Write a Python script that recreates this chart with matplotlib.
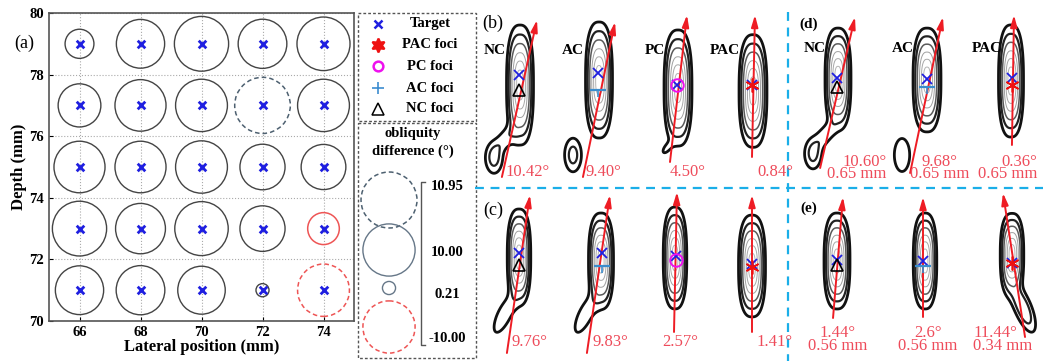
import numpy as np
import matplotlib
matplotlib.use("Agg")
import matplotlib.pyplot as plt
from matplotlib.patches import Circle, Rectangle

plt.rcParams['font.family'] = ['Liberation Serif', 'DejaVu Serif']

# ---------------- data: panel (a) ----------------
lateral = [66, 68, 70, 72, 74]          # mm
depth = [79, 77, 75, 73, 71]            # mm
# obliquity difference (deg) per depth row (top to bottom) and lateral column
obl_79 = [4.2, 9.1, 10.6, 9.2, 10.3]
obl_77 = [7.7, 9.8, 10.0, 10.95, 10.0]
obl_75 = [9.8, 9.8, 10.0, 8.3, 8.2]
obl_73 = [10.6, 9.5, 10.4, 8.3, -4.9]
obl_71 = [9.1, 9.2, 8.9, 0.21, -10.0]
obl_rows = [obl_79, obl_77, obl_75, obl_73, obl_71]
legend_values = [10.95, 10.00, 0.21, -10.00]
legend_labels = ['10.95', '10.00', '0.21', '-10.00']
x_ticks = [66, 68, 70, 72, 74]
y_ticks = [70, 72, 74, 76, 78, 80]

# ---------------- data: panels (b)-(e) ----------------
panel_row = ['b', 'b', 'b', 'b', 'c', 'c', 'c', 'c', 'd', 'd', 'd', 'e', 'e', 'e']
methods = ['NC', 'AC', 'PC', 'PAC', 'NC', 'AC', 'PC', 'PAC', 'NC', 'AC', 'PAC', 'NC', 'AC', 'PAC']
angle_labels = ['10.42°', '9.40°', '4.50°', '0.84°', '9.76°', '9.83°', '2.57°', '1.41°',
                '10.60°', '9.68°', '0.36°', '1.44°', '2.6°', '11.44°']
dist_labels = [None] * 8 + ['0.65 mm', '0.65 mm', '0.65 mm', '0.56 mm', '0.56 mm', '0.34 mm']
arrow_tilt = [12.6, 11.7, 6.6, 1.2, 8.3, 8.3, 1.2, 0.0, 13.0, 11.9, 0.9, 4.7, 0.0, -8.7]

RED_TXT = '#ee4b5a'
RED_ARR = '#ee1c24'
BLUE = '#1f1fe0'
CYAN = '#1aaee8'

def radius(v):
    return 0.2 + 0.065 * abs(v)

def circ_style(v):
    vmax = max(legend_values)
    vmin = min(legend_values)
    if v < 0:
        return dict(ec='#ee5555', ls=(0, (3, 2)) if v <= vmin else '-', lw=1.1)
    if v >= vmax:
        return dict(ec='#4d6070', ls=(0, (3, 2)), lw=1.1)
    return dict(ec='#444444', ls='-', lw=1.0)

W, H = 1043, 361
fig = plt.figure(figsize=(W / 100, H / 100), dpi=100)

# ---------------- panel (a) ----------------
axa = fig.add_axes([49 / W, 1 - 321 / H, 305 / W, 308 / H])
axa.set_xlim(65, 75)
axa.set_ylim(70, 80)
for r, d in enumerate(depth):
    for c, lx in enumerate(lateral):
        v = obl_rows[r][c]
        st = circ_style(v)
        axa.add_patch(Circle((lx, d), radius(v), fill=False, **st))
xs, ys = np.meshgrid(lateral, depth)
axa.scatter(xs.ravel(), ys.ravel(), marker='x', s=30, color=BLUE, linewidths=2.0, zorder=5)
axa.set_xticks(x_ticks)
axa.set_yticks(y_ticks)
axa.grid(True, ls=':', color='#aaaaaa', lw=0.8)
axa.set_axisbelow(True)
axa.tick_params(direction='in', length=3, labelsize=10.5, width=0.8)
for lab in axa.get_xticklabels() + axa.get_yticklabels():
    lab.set_fontweight('bold')
axa.set_xlabel('Lateral position (mm)', fontsize=12, fontweight='bold', labelpad=0)
axa.set_ylabel('Depth (mm)', fontsize=12, fontweight='bold', labelpad=2)
for s in axa.spines.values():
    s.set_color('#555555')
    s.set_linewidth(1.2)

# ---------------- overlay (pixel coordinates) ----------------
ov = fig.add_axes([0, 0, 1, 1])
ov.set_xlim(0, W)
ov.set_ylim(H, 0)
ov.axis('off')
ov.patch.set_alpha(0)

ov.text(24, 43, '(a)', fontsize=13, ha='center', va='center')

# legend boxes
box_kw = dict(fill=False, ec='#555555', lw=1.0, ls=(0, (2, 1.5)))
ov.add_patch(Rectangle((358, 13), 118, 108, **box_kw))
ov.add_patch(Rectangle((358, 123), 118, 235, **box_kw))

leg_names = ['Target', 'PAC foci', 'PC foci', 'AC foci', 'NC foci']
leg_y = [24, 45, 66, 88, 109]
ov.plot(378, leg_y[0], marker='x', ms=6, mew=1.8, color=BLUE, ls='none')
ov.plot(378, leg_y[1], marker=(6, 1, 0), ms=10, mew=1.5, color='#ee1111', ls='none')
ov.plot(378, leg_y[2], marker='o', ms=7, mew=1.8, mfc='none', mec='#ee11ee', ls='none')
ov.plot(378, leg_y[3], marker='+', ms=9, mew=1.2, color='#3c8cd0', ls='none')
ov.plot(378, leg_y[4], marker='^', ms=8, mew=1.1, mfc='none', mec='k', ls='none')
for nm, yy in zip(leg_names, leg_y):
    ov.text(430, yy, nm, fontsize=10.5, fontweight='bold', ha='center', va='center')

ov.text(413, 134, 'obliquity', fontsize=10.5, fontweight='bold', ha='center', va='center')
ov.text(413, 151, 'difference (°)', fontsize=10.5, fontweight='bold', ha='center', va='center')

px_per_mm = 30.7
leg_cy = [200, 250, 288, 327]
for v, cy in zip(legend_values, leg_cy):
    st = circ_style(v)
    if v >= 0 and v < max(legend_values):
        st['ec'] = '#667788'
    ov.add_patch(Circle((389, cy), radius(v) * px_per_mm, fill=False, **st))
ov.plot([425, 421, 421, 425], [182, 182, 345, 345], color='#555555', lw=1.0)
lab_y = [187, 253, 295, 339]
for t, yy in zip(legend_labels, lab_y):
    ov.text(447, yy, t, fontsize=10.5, fontweight='bold', ha='center', va='center')

# cyan dashed separators
ov.plot([475, W], [188, 188], color=CYAN, lw=1.6, ls=(0, (4, 3)))
ov.plot([788, 788], [12, H], color=CYAN, lw=1.6, ls=(0, (4, 3)))

ov.text(493, 23, '(b)', fontsize=13, ha='center', va='center')
ov.text(493, 210, '(c)', fontsize=13, ha='center', va='center')
ov.text(809, 24, '(d)', fontsize=11, fontweight='bold', ha='center', va='center')
ov.text(809, 208, '(e)', fontsize=11, fontweight='bold', ha='center', va='center')

# ---------------- layout of small contour panels (pixel positions) ----------------
targets = [(519, 75), (598, 73), (677, 85), (752, 85),
           (519, 253), (602, 253), (676, 256), (752, 264),
           (837, 78), (927, 79), (1012, 78),
           (837, 260), (923, 261), (1012, 263)]
# blobs: (dx, dy, sx, sy, amp, angle); first blob = main focal region
blobs = [
    [(1, 10, 5.5, 24.5, 1.0, 0), (-25, 83, 5.5, 10, 0.16, 0), (-14, 64, 5, 11, 0.1, 35)],
    [(1, 7, 5.5, 23.7, 1.0, 0), (-25, 82, 5.5, 11, 0.16, 0)],
    [(1, 3, 5.7, 23.7, 1.0, 0), (-11, 64, 3, 6, 0.06, 35)],
    [(1, 6, 5.7, 23.0, 1.0, 0)],
    [(0, 4, 4.8, 19.6, 1.0, 0), (-15, 62, 5.5, 16, 0.1, 25)],
    [(-1, 8, 5.1, 19.6, 1.0, 0), (-17, 62, 5.5, 16, 0.1, 25)],
    [(-1, 2, 4.8, 20.8, 1.0, 0)],
    [(0, 2, 5.5, 20.8, 1.0, 0)],
    [(1, 1, 5.3, 20.8, 1.0, 0), (-24, 76, 5.5, 10, 0.15, 0), (-13, 58, 5, 11, 0.1, 35)],
    [(0, 1, 5.7, 21.2, 1.0, 0), (-25, 76, 6.5, 14, 0.1, 0)],
    [(-1, 3, 5.1, 22.9, 1.0, 0)],
    [(0, 1, 5.3, 19.6, 1.0, 0)],
    [(2, 0, 4.8, 19.6, 1.0, 0)],
    [(0, -8, 4.8, 17.0, 1.0, 0), (11, 45, 5, 15, 0.22, -22)],
]
arrow_x0 = [5.7, 6.5, 1.9, 1.5, 2.5, -0.5, -0.4, 0, 3.9, 2.9, 1.0, 0.8, 0, 1.7]
arrow_bot = [102, 104, 77, 72, 100, 100, 76, 68, 90, 94, 67, 58, 56, 74]
arrow_top = [55, 51, 70, 70, 58, 58, 64, 69, 61, 62, 63, 63, 64, 70]
focus_dy = [15, 17, 0, 0, 12, 13, 4, 3, 9, 8, 7, 5, 5, 0]
text_dx = [9, 5, 11, 23, 11, 8, 4, 23, 20, 13, -4, 1, 5, -9]
text_align = [None] * 8 + ['right', 'center', 'right', 'center', 'center', 'left']
method_dxy = [(-24, -25), (-25, -23), (-22, -35), (-27, -35), None, None, None, None,
              (-22, -30), (-24, -31), (-25, -30), None, None, None]
row_text_y = {'b': 172, 'c': 342, 'd': 168, 'e': 339.5}

levels = [0.05, 0.12, 0.24, 0.42, 0.62, 0.83]
lcolors = ['#111111', '#222222', '#5a5a5a', '#a0a0a0', '#a8a8a8', '#b4b4b4']
lwidths = [2.0, 1.6, 1.1, 0.7, 0.7, 0.7]
Q_MAIN = 2.6  # superellipse exponent for the main (rounded-rectangle) region

def field(X, Y, bl):
    F = np.zeros_like(X)
    for k, (cx, cy, sx, sy, amp, ang) in enumerate(bl):
        q = Q_MAIN if k == 0 else 2.0
        t = np.radians(ang)
        u = (X - cx) * np.cos(t) + (Y - cy) * np.sin(t)
        v = -(X - cx) * np.sin(t) + (Y - cy) * np.cos(t)
        D = (np.abs(u / sx) ** q + np.abs(v / sy) ** q) ** (1.0 / q)
        F += amp * np.exp(-0.5 * D ** 2)
    return F

gx = np.arange(-50, 50.01, 0.5)
gy = np.arange(-80, 115.01, 0.5)
for i, (tx, ty) in enumerate(targets):
    X, Y = np.meshgrid(gx, gy)
    F = field(X, Y, blobs[i])
    ov.contour(X + tx, Y + ty, F, levels=levels, colors=lcolors, linewidths=lwidths)
    # arrow
    tt = np.tan(np.radians(arrow_tilt[i]))
    yb, yt = arrow_bot[i], -arrow_top[i]
    xb = tx + arrow_x0[i] - yb * tt
    xt = tx + arrow_x0[i] - yt * tt
    ov.annotate('', xy=(xt, ty + yt), xytext=(xb, ty + yb),
                arrowprops=dict(arrowstyle='-|>,head_length=0.7,head_width=0.2',
                                color=RED_ARR, lw=1.4, shrinkA=0, shrinkB=0), zorder=6)
    # markers
    ov.plot(tx, ty, marker='x', ms=7, mew=1.3, color=BLUE, zorder=7)
    fy_ = ty + focus_dy[i]
    m = methods[i]
    if m == 'NC':
        ov.plot(tx, fy_, marker='^', ms=9, mew=1.2, mfc='none', mec='k', zorder=7)
    elif m == 'AC':
        ov.plot(tx, fy_, marker='_', ms=12, mew=1.6, color='#3a8ccc', zorder=7)
        ov.plot(tx, fy_ + 3, marker='|', ms=6, mew=1.2, color='#3a8ccc', zorder=7)
    elif m == 'PC':
        ov.plot(tx, fy_, marker='o', ms=9, mew=1.4, mfc='none', mec='#ee11ee', zorder=8)
    else:
        ov.plot(tx, fy_, marker=(6, 2, 0), ms=10, mew=1.2, color='#ee1111', zorder=8)
    if method_dxy[i] is not None:
        ov.text(tx + method_dxy[i][0], ty + method_dxy[i][1], m, fontsize=11,
                fontweight='bold', ha='center', va='center', zorder=9)
    yy = row_text_y[panel_row[i]]
    if dist_labels[i] is None:
        ov.text(tx + text_dx[i], yy, angle_labels[i], fontsize=12, color=RED_TXT,
                ha='center', va='center', zorder=9)
    else:
        ov.text(tx + text_dx[i], yy, angle_labels[i] + '\n' + dist_labels[i], fontsize=12,
                color=RED_TXT, ha='center', va='center', multialignment=text_align[i],
                linespacing=0.72, zorder=9)

fig.savefig('out.png', dpi=100)
